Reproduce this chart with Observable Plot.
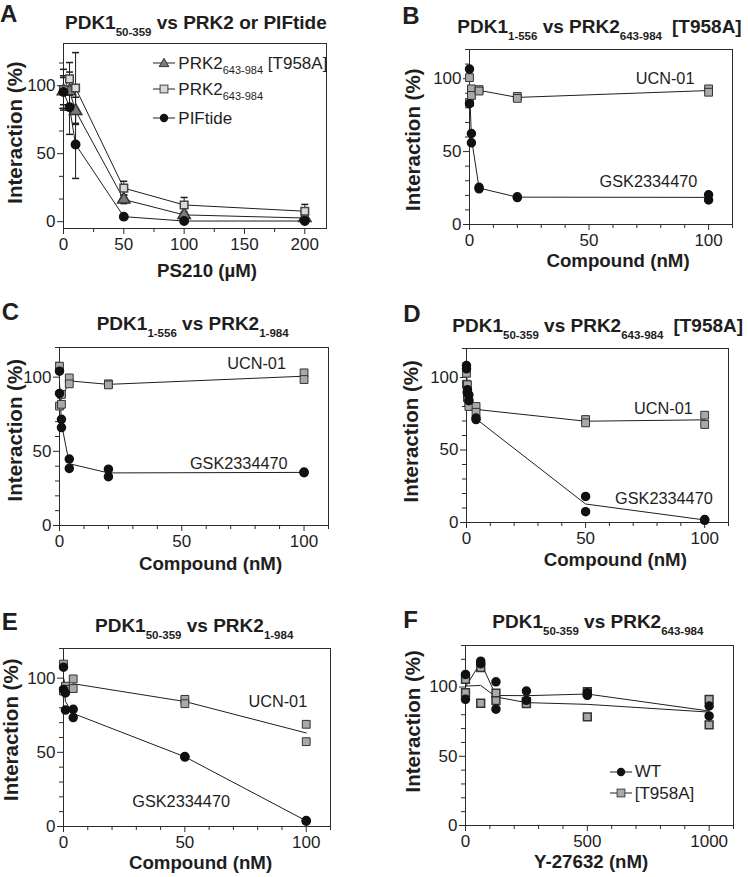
<!DOCTYPE html>
<html><head><meta charset="utf-8">
<script src="https://cdn.jsdelivr.net/npm/d3@7"></script>
<script src="https://cdn.jsdelivr.net/npm/@observablehq/plot@0.6"></script>
<style>
html,body{margin:0;padding:0;background:#fff;}
#fig{position:relative;width:748px;height:877px;overflow:hidden;font-family:"Liberation Sans",Arial,Helvetica,sans-serif;color:#1e1e1e;}
.abs{position:absolute;white-space:nowrap;line-height:1;}
.ttl{font-weight:bold;font-size:19px;}
.ttl .sub{font-size:11.5px;position:relative;top:7px;}
.letter{font-weight:bold;font-size:24px;}
.leg{font-size:17px;}
.leg .sub{font-size:11px;position:relative;top:5px;}
</style></head>
<body><div id="fig"></div>
<script>
// ---------- DATA ----------
// Panel A: PS210 (µM), mean ± error
const aX = [0, 5, 10, 50, 100, 200];
const aT958A = [96, 96, 81.5, 16.3, 5, 2.7];
const aT958Aerr = [10, 14, 10, 3, 2, 1.5];
const aPRK2 = [97, 105, 98.3, 24.7, 12.3, 7.7];
const aPRK2err = [15, 12, 26, 5, 5.5, 5];
const aPIF = [95.3, 84.2, 56.8, 3.7, 0.5, 0.5];
const aPIFerr = [12, 20, 25, 1, 0.5, 0.5];

// Panel B
const bConc = [0, 0, 0.8, 0.8, 4, 4, 20, 20, 100, 100];
const bGSK = [106.6, 82.8, 62.4, 56, 25.5, 24.5, 19, 18.5, 20.4, 16.8];
const bUCN = [100.7, 83.7, 93, 88.5, 92.5, 91.5, 87.8, 86.5, 93, 90.7];
// Panel C
const cConc = [0, 0, 0.8, 0.8, 4, 4, 20, 20, 100, 100];
const cGSK = [104, 89, 71.6, 66, 44.8, 38.5, 38, 32.9, 36, 35.6];
const cUCN = [107.4, 80.5, 88.4, 81.7, 99.5, 95.5, 95.5, 94.8, 102.9, 98.4];
// Panel D
const dConc = [0, 0, 0.4, 0.4, 1, 1, 4, 4, 50, 50, 100, 100];
const dGSK = [108.2, 106, 91.6, 89, 88, 84, 72, 71, 18, 7.5, 2, 1.5];
const dUCN = [102.9, 95.4, 95, 86, 83, 80, 80, 76, 71, 68.7, 74, 67.6];
// Panel E
const eConc = [0, 0, 0.8, 0.8, 4, 4, 50, 50, 100, 100];
const eGSK = [107.4, 92.4, 90, 78.5, 79, 73.4, 47.2, 46.8, 4, 3.6];
const eUCN = [109.5, 91.3, 94.6, 92.5, 99.5, 93, 85.7, 82.8, 68.9, 57.2];
// Panel F: Y-27632 (nM)
const fConc = [0, 0, 62.5, 62.5, 125, 125, 250, 250, 500, 500, 1000, 1000];
const fWT = [109.1, 91.1, 118.7, 116.9, 103.8, 84, 97.1, 90.4, 95.9, 94, 86.3, 79.1];
const fT958A = [105.5, 95.9, 114, 88.3, 95.5, 90.2, 89.5, 88, 96.6, 78.4, 91.1, 72.7];

// Tick values
const ticks50 = [0, 50, 100];
const minor10x = [10, 20, 30, 40, 60, 70, 80, 90, 110];
const minor10y = [10, 20, 30, 40, 60, 70, 80, 90, 110, 120];
const aXMajor = [0, 50, 100, 150, 200];
const aXMinor = [25, 75, 125, 175];
const aYMinor = [50/3, 100/3, 200/3, 250/3, 350/3];
const fXMajor = [0, 500, 1000];
const fXMinor = [100, 200, 300, 400, 600, 700, 800, 900, 1100];
const fYMinor = [10, 20, 30, 40, 60, 70, 80, 90, 110, 120, 130];

// Curve labels
const bNotes = [{label: "UCN-01", x: 94.1, y: 96.3}, {label: "GSK2334470", x: 95.3, y: 25.9}];
const cNotes = [{label: "UCN-01", x: 92.6, y: 105.4}, {label: "GSK2334470", x: 93.3, y: 38.3}];
const dNotes = [{label: "UCN-01", x: 95, y: 74.7}, {label: "GSK2334470", x: 103.4, y: 13}];
const eNotes = [{label: "UCN-01", x: 100.4, y: 80.5}, {label: "GSK2334470", x: 68.6, y: 13.4}];

// ---------- DRAWING ----------
const fig = document.getElementById("fig");
const FONT = '"Liberation Sans", Arial, Helvetica, sans-serif';
const INK = "#1e1e1e";
const SQ_FILL = "#a9a9a9";
const cap = {draw(ctx, size) { const w = Math.sqrt(size / Math.PI); ctx.moveTo(-w, 0); ctx.lineTo(w, 0); }};

function rows(xs, ys, s) { return xs.map((x, i) => ({x, y: ys[i], s})); }

function panel(p) {
  const [bx, by, bw, bh] = p.box;
  const [fl, fr, ft, fb] = p.frame;
  const chart = Plot.plot({
    width: bw, height: bh,
    marginLeft: fl - bx, marginRight: bx + bw - fr, marginTop: ft - by, marginBottom: by + bh - fb,
    style: {fontFamily: FONT, fontSize: "17px", color: INK, background: "transparent", overflow: "visible"},
    x: {domain: p.xDomain, axis: null, label: null},
    y: {domain: p.yDomain, axis: null, label: null},
    marks: [
      Plot.axisX(p.xMinor, {tickSize: 4, fill: "none", label: null, stroke: "#2b2b2b"}),
      Plot.axisX(p.xMajor, {tickSize: 6, tickPadding: 3, fontSize: 17, label: null, stroke: "#2b2b2b", tickFormat: d => String(d)}),
      Plot.axisY(p.yMinor, {tickSize: 4, fill: "none", label: null, stroke: "#2b2b2b"}),
      Plot.axisY(p.yMajor, {tickSize: 6, tickPadding: 2, fontSize: 17, label: null, stroke: "#2b2b2b", tickFormat: d => String(d)}),
      Plot.frame({stroke: "#2b2b2b", strokeWidth: 1}),
      ...p.marks,
      Plot.text([p.xLabel], {text: d => d, frameAnchor: "bottom", dx: p.xLab[0], dy: p.xLab[1], lineAnchor: "bottom", textAnchor: "middle", fontSize: 18.7, fontWeight: "bold"}),
      Plot.text([p.yLabel], {text: d => d, frameAnchor: "left", rotate: -90, dx: p.yLab[0], dy: p.yLab[1], lineAnchor: "bottom", textAnchor: "middle", fontSize: 20.5, fontWeight: "bold"})
    ]
  });
  chart.style.position = "absolute";
  chart.style.left = bx + "px";
  chart.style.top = by + "px";
  fig.appendChild(chart);
}

function doseMarks(gsk, ucn, notes) {
  const all = gsk.concat(ucn);
  return [
    Plot.line(all, Plot.groupX({y: "mean"}, {x: "x", y: "y", z: "s", stroke: INK, strokeWidth: 1})),
    Plot.dot(ucn, {x: "x", y: "y", symbol: "square", r: 4.4, fill: SQ_FILL, stroke: "#333", strokeWidth: 1}),
    Plot.dot(gsk, {x: "x", y: "y", r: 4, fill: "#111", stroke: "#111"}),
    Plot.text(notes, {x: "x", y: "y", text: "label", textAnchor: "end", lineAnchor: "bottom", fontSize: 16.3, fill: INK})
  ];
}

// Panel A
const aRows = [
  ...aX.map((x, i) => ({x, y: aT958A[i], e: aT958Aerr[i], s: "T958A"})),
  ...aX.map((x, i) => ({x, y: aPRK2[i], e: aPRK2err[i], s: "PRK2"})),
  ...aX.map((x, i) => ({x, y: aPIF[i], e: aPIFerr[i], s: "PIF"}))
];
panel({
  box: [0, 36, 374, 254], frame: [63, 326, 43, 228],
  xDomain: [0, 218], yDomain: [-5, 131],
  xMajor: aXMajor, xMinor: aXMinor, yMajor: ticks50, yMinor: aYMinor,
  xLabel: "PS210 (µM)", yLabel: "Interaction (%)", xLab: [12, 48], yLab: [-41.5, -3.5],
  marks: [
    Plot.ruleX(aRows, {x: "x", y1: d => d.y - d.e, y2: d => d.y + d.e, stroke: INK, strokeWidth: 1}),
    Plot.dot(aRows, {x: "x", y: d => d.y + d.e, symbol: cap, r: 3.5, stroke: INK, fill: "none"}),
    Plot.dot(aRows, {x: "x", y: d => d.y - d.e, symbol: cap, r: 3.5, stroke: INK, fill: "none"}),
    Plot.line(aRows, {x: "x", y: "y", z: "s", stroke: INK, strokeWidth: 1}),
    Plot.dot(aRows.filter(d => d.s === "T958A"), {x: "x", y: "y", symbol: "triangle", r: 4.6, fill: "#7a7a7a", stroke: "#333"}),
    Plot.dot(aRows.filter(d => d.s === "PRK2"), {x: "x", y: "y", symbol: "square", r: 4.3, fill: "#d9d9d9", stroke: "#444"}),
    Plot.dot(aRows.filter(d => d.s === "PIF"), {x: "x", y: "y", r: 4.2, fill: "#111", stroke: "#111"})
  ]
});

// Panel B
panel({
  box: [374, 40, 374, 250], frame: [469, 732, 49, 224],
  xDomain: [0, 110], yDomain: [0, 120],
  xMajor: ticks50, xMinor: minor10x, yMajor: ticks50, yMinor: minor10y,
  xLabel: "Compound (nM)", yLabel: "Interaction (%)", xLab: [17, 42.7], yLab: [-50, 2.7],
  marks: doseMarks(rows(bConc, bGSK, "GSK"), rows(bConc, bUCN, "UCN"), bNotes)
});
// Panel C
panel({
  box: [0, 336, 374, 244], frame: [59, 328, 347, 525],
  xDomain: [0, 110], yDomain: [0, 120],
  xMajor: ticks50, xMinor: minor10x, yMajor: ticks50, yMinor: minor10y,
  xLabel: "Compound (nM)", yLabel: "Interaction (%)", xLab: [16.5, 44], yLab: [-37.3, -6.3],
  marks: doseMarks(rows(cConc, cGSK, "GSK"), rows(cConc, cUCN, "UCN"), cNotes)
});
// Panel D
panel({
  box: [374, 336, 374, 244], frame: [466, 728, 348, 522],
  xDomain: [0, 110], yDomain: [0, 120],
  xMajor: ticks50, xMinor: minor10x, yMajor: ticks50, yMinor: minor10y,
  xLabel: "Compound (nM)", yLabel: "Interaction (%)", xLab: [17.8, 43], yLab: [-48.7, -4.2],
  marks: doseMarks(rows(dConc, dGSK, "GSK"), rows(dConc, dUCN, "UCN"), dNotes)
});
// Panel E
panel({
  box: [0, 636, 374, 241], frame: [63, 330, 648, 826],
  xDomain: [0, 110], yDomain: [0, 120],
  xMajor: ticks50, xMinor: minor10x, yMajor: ticks50, yMinor: minor10y,
  xLabel: "Compound (nM)", yLabel: "Interaction (%)", xLab: [3.5, 42.3], yLab: [-45.7, -7.8],
  marks: doseMarks(rows(eConc, eGSK, "GSK"), rows(eConc, eUCN, "UCN"), eNotes)
});
// Panel F
const fW = rows(fConc, fWT, "WT"), fT = rows(fConc, fT958A, "T958A");
panel({
  box: [374, 636, 374, 241], frame: [465, 733, 645, 825],
  xDomain: [0, 1100], yDomain: [0, 130],
  xMajor: fXMajor, xMinor: fXMinor, yMajor: ticks50, yMinor: fYMinor,
  xLabel: "Y-27632 (nM)", yLabel: "Interaction (%)", xLab: [-8.3, 42.3], yLab: [-46, -14.2],
  marks: [
    Plot.line(fW.concat(fT), Plot.groupX({y: "mean"}, {x: "x", y: "y", z: "s", stroke: INK, strokeWidth: 1})),
    Plot.dot(fT, {x: "x", y: "y", symbol: "square", r: 4.4, fill: SQ_FILL, stroke: "#333"}),
    Plot.dot(fW, {x: "x", y: "y", r: 4, fill: "#111", stroke: "#111"})
  ]
});

// ---------- TEXT OVERLAYS ----------
function place(cls, html, left, baseline, fs) {
  const d = document.createElement("div");
  d.className = "abs " + cls;
  d.innerHTML = html;
  d.style.left = left + "px";
  d.style.top = (baseline - 0.8465 * fs) + "px";
  fig.appendChild(d);
}
const S = t => `<span class="sub">${t}</span>`;
place("ttl", `PDK1${S("50-359")} vs PRK2 or PIFtide`, 65, 29.3, 19);
place("ttl", `PDK1${S("1-556")} vs PRK2${S("643-984")}<span style="margin-left:10px">[T958A]</span>`, 457.3, 32.7, 19);
place("ttl", `PDK1${S("1-556")} vs PRK2${S("1-984")}`, 96.7, 330, 19);
place("ttl", `PDK1${S("50-359")} vs PRK2${S("643-984")}<span style="margin-left:10px">[T958A]</span>`, 452.3, 331.7, 19);
place("ttl", `PDK1${S("50-359")} vs PRK2${S("1-984")}`, 95, 631.7, 19);
place("ttl", `PDK1${S("50-359")} vs PRK2${S("643-984")}`, 492.3, 628.3, 19);

[["A", 0, 22.7], ["B", 402.3, 24], ["C", 1.7, 320], ["D", 403.3, 322.7], ["E", 1.7, 630], ["F", 403.3, 628.3]]
  .forEach(([t, l, b]) => place("letter", t, l, b, 24));

// Legends
function glyph(kind, cx, cy) {
  const ns = "http://www.w3.org/2000/svg";
  const svg = document.createElementNS(ns, "svg");
  svg.setAttribute("width", 26); svg.setAttribute("height", 14);
  svg.style.position = "absolute";
  svg.style.left = (cx - 13) + "px"; svg.style.top = (cy - 7) + "px";
  let m = "";
  if (kind === "circle") m = `<circle cx="13" cy="7" r="4.2" fill="#111"/>`;
  if (kind === "square") m = `<rect x="9.1" y="3.1" width="7.8" height="7.8" fill="${kind === "square" && cy < 300 ? "#d9d9d9" : SQ_FILL}" stroke="#444"/>`;
  if (kind === "triangle") m = `<path d="M13,2.3 L17.8,10.6 L8.2,10.6 Z" fill="#7a7a7a" stroke="#333"/>`;
  svg.innerHTML = `<line x1="2" y1="7" x2="24" y2="7" stroke="${INK}" stroke-width="1"/>` + m;
  fig.appendChild(svg);
}
glyph("triangle", 163.5, 63.3);
glyph("square", 163.5, 89.3);
glyph("circle", 163.5, 118.3);
const L = t => `<span class="sub">${t}</span>`;
place("leg", `PRK2${L("643-984")} [T958A]`, 178.3, 69, 17);
place("leg", `PRK2${L("643-984")}`, 178.3, 95, 17);
place("leg", `PIFtide`, 178.3, 124, 17);

glyph("circle", 621, 771.7);
glyph("square", 621, 793.3);
place("leg", `WT`, 634.7, 777.5, 17);
place("leg", `[T958A]`, 634.7, 799, 17);
</script>
</body></html>
